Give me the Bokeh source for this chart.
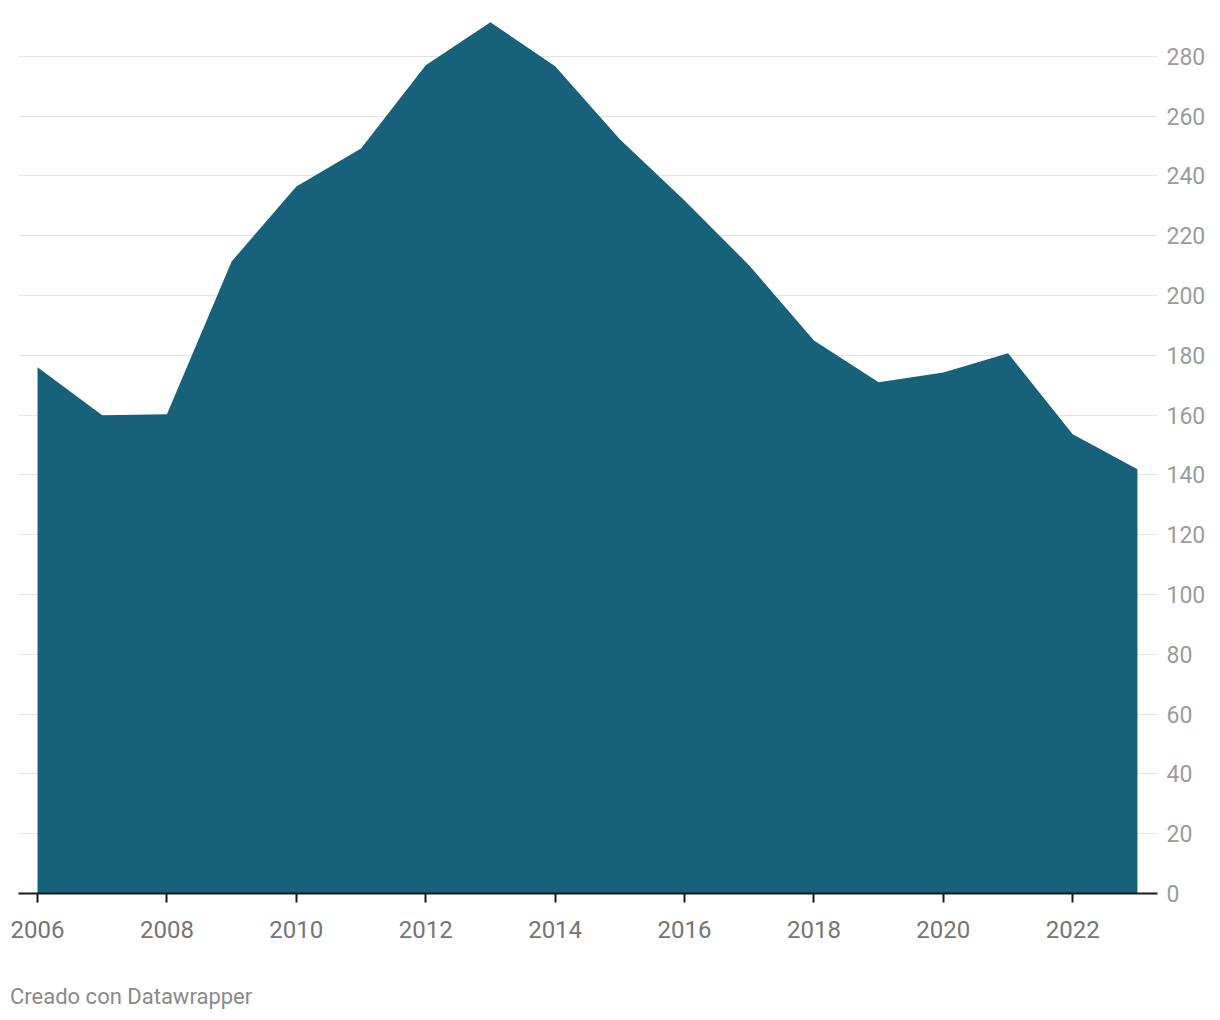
from bokeh.plotting import figure
from bokeh.models import LinearAxis, FixedTicker, Range1d, Div
from bokeh.layouts import column
from bokeh.embed import file_html
from bokeh.resources import INLINE

years = list(range(2006, 2024))
values = [176, 160, 160.3, 211.4, 236.5, 249.2, 277, 291.4, 276.7,
          252.3, 231.8, 210.1, 185, 171, 174.3, 180.7, 153.6, 141.9]
y_ticks = list(range(0, 281, 20))
x_ticks = list(range(2006, 2024, 2))
footer_text = "Creado con Datawrapper"

FONT = "Roboto"
AREA = "#17617b"

p = figure(frame_width=1139, frame_height=893, output_backend="svg", toolbar_location=None,
           x_range=Range1d(2005.706, 2023.31), y_range=Range1d(0, 298.7),
           min_border_left=18, min_border_right=55, min_border_top=0,
           min_border_bottom=60,
           y_axis_location=None, x_axis_location=None)
p.outline_line_color = None

p.varea(x=years, y1=[0] * len(years), y2=values, fill_color=AREA, fill_alpha=1)

# right y axis
ya = LinearAxis(ticker=FixedTicker(ticks=y_ticks))
ya.axis_line_color = None
ya.major_tick_line_color = None
ya.minor_tick_line_color = None
ya.major_label_standoff = 3
ya.major_label_text_font = FONT
ya.major_label_text_font_size = "23px"
ya.major_label_text_color = "#9c9c9c"
p.add_layout(ya, "right")

# bottom x axis
xa = LinearAxis(ticker=FixedTicker(ticks=x_ticks))
xa.axis_line_color = "#1a1a1a"
xa.axis_line_width = 2
xa.major_tick_line_color = "#1a1a1a"
xa.major_tick_line_width = 2
xa.major_tick_in = 0
xa.major_tick_out = 9
xa.minor_tick_line_color = None
xa.major_label_standoff = 18
xa.major_label_text_font = FONT
xa.major_label_text_font_size = "24px"
xa.major_label_text_color = "#757575"
p.add_layout(xa, "below")

p.xgrid.grid_line_color = None
p.ygrid.ticker = FixedTicker(ticks=y_ticks[1:])
p.ygrid.grid_line_color = "#e4e4e4"
p.ygrid.grid_line_width = 1
p.ygrid.level = "underlay"

footer = Div(text=footer_text, margin=(31, 0, 0, 10),
             styles={"font-family": FONT, "font-size": "22px", "color": "#8a8a8a",
                     "line-height": "25px", "white-space": "nowrap"})

layout = column(p, footer, spacing=0)

open("out.html", "w").write(file_html(layout, INLINE))
